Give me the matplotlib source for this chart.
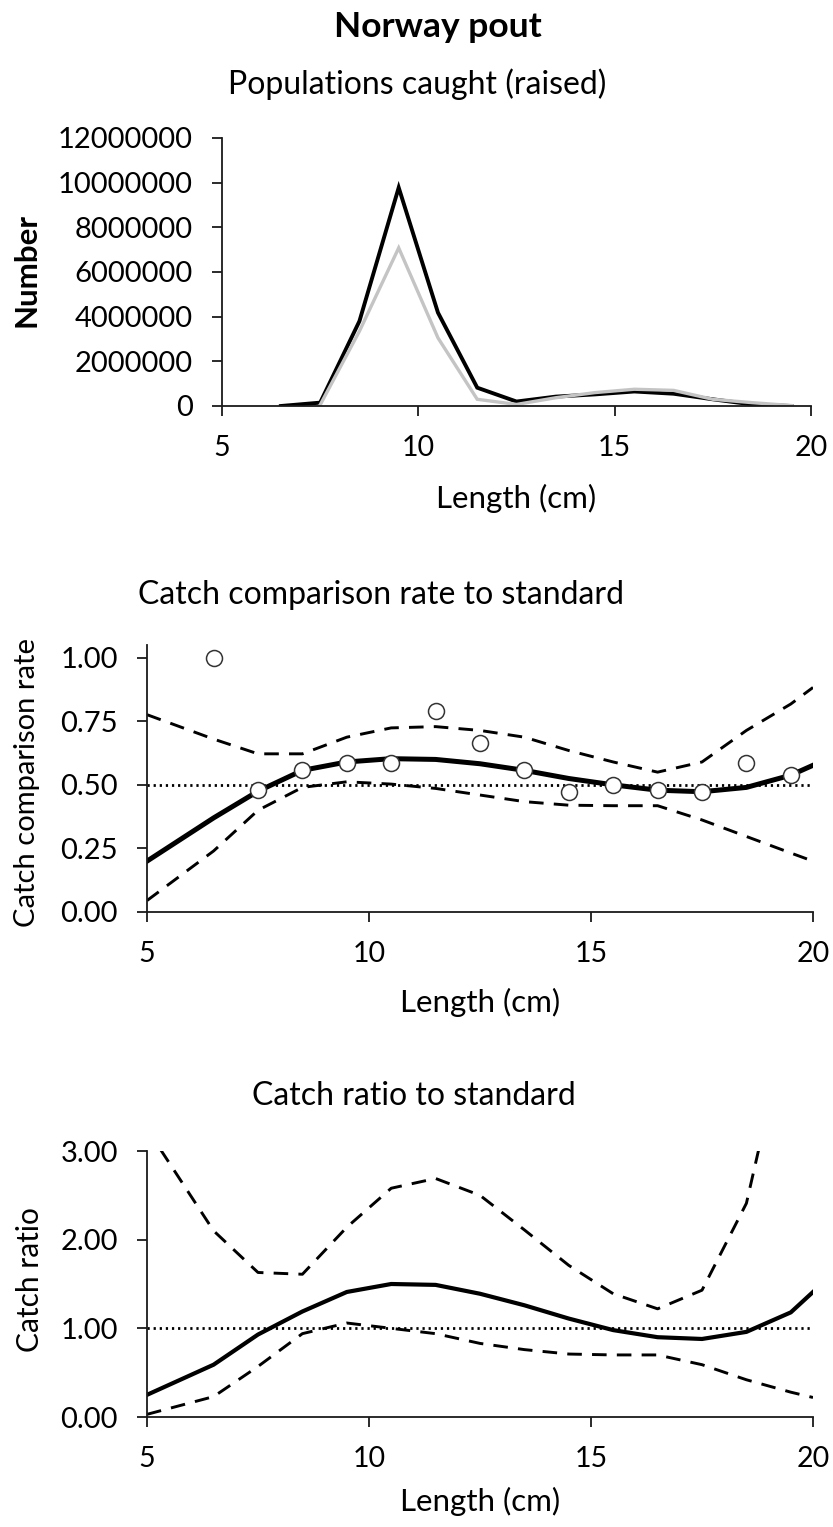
import numpy as np
import matplotlib
matplotlib.use("Agg")
import matplotlib.pyplot as plt
from matplotlib.ticker import FuncFormatter

plt.rcParams['font.family'] = ['Lato', 'DejaVu Sans']

# ---- Datos ----
# Panel 1: poblaciones capturadas (elevadas)
len_pop = [6.5, 7.5, 8.5, 9.5, 10.5, 11.5, 12.5, 13.5, 14.5, 15.5, 16.5, 17.5, 18.5, 19.5]
pop_test = [0, 0.15e6, 3.8e6, 9.78e6, 4.18e6, 0.82e6, 0.2e6, 0.42e6, 0.52e6, 0.65e6, 0.55e6, 0.3e6, 0.07e6, 0.0]
pop_std = [np.nan, 0.05e6, 3.35e6, 7.08e6, 3.05e6, 0.3e6, 0.07e6, 0.37e6, 0.6e6, 0.75e6, 0.7e6, 0.3e6, 0.15e6, 0.02e6]

# Panel 2: tasa de comparación de captura
len_fit = [5, 6.5, 7.5, 8.5, 9.5, 10.5, 11.5, 12.5, 13.5, 14.5, 15.5, 16.5, 17.5, 18.5, 19.5, 20]
ccr_fit = [0.200, 0.37, 0.475, 0.557, 0.59, 0.603, 0.60, 0.583, 0.557, 0.525, 0.50, 0.479, 0.473, 0.49, 0.538, 0.577]
ccr_upper = [0.776, 0.68, 0.622, 0.622, 0.6875, 0.724, 0.729, 0.714, 0.6875, 0.635, 0.59, 0.55, 0.59, 0.714, 0.818, 0.883]
ccr_lower = [0.045, 0.24, 0.40, 0.49, 0.512, 0.503, 0.486, 0.46, 0.434, 0.42, 0.418, 0.418, 0.362, 0.297, 0.232, 0.20]
len_obs = [6.5, 7.5, 8.5, 9.5, 10.5, 11.5, 12.5, 13.5, 14.5, 15.5, 16.5, 17.5, 18.5, 19.5]
ccr_obs = [1.00, 0.479, 0.56, 0.586, 0.586, 0.789, 0.664, 0.56, 0.473, 0.501, 0.479, 0.47, 0.587, 0.538]
ccr_ref = 0.5

# Panel 3: razón de captura
cr_fit = [0.25, 0.59, 0.93, 1.19, 1.41, 1.5, 1.49, 1.39, 1.26, 1.11, 0.98, 0.9, 0.88, 0.96, 1.18, 1.41]
cr_upper = [3.25, 2.1, 1.63, 1.61, 2.14, 2.58, 2.69, 2.5, 2.11, 1.71, 1.39, 1.22, 1.43, 2.41, 4.6, np.nan]
cr_lower = [0.03, 0.23, 0.57, 0.94, 1.06, 1.0, 0.94, 0.83, 0.76, 0.71, 0.70, 0.70, 0.59, 0.42, 0.28, 0.22]
cr_ref = 1.0

x_ticks = [5, 10, 15, 20]

# ---- Figura ----
W, H = 833, 1527
fig = plt.figure(figsize=(W / 100, H / 100), dpi=100)

def add_px_axes(left, right, top, bottom):
    return fig.add_axes([left / W, 1 - bottom / H, (right - left) / W, (bottom - top) / H])

def fig_text(x, y, s, **kw):
    fig.text(x / W, 1 - y / H, s, ha='center', va='center', **kw)

def style_axes(ax):
    for side in ['top', 'right']:
        ax.spines[side].set_visible(False)
    for side in ['left', 'bottom']:
        ax.spines[side].set_linewidth(1.3)
        ax.spines[side].set_color('#1a1a1a')
    ax.set_xlim(5, 20)
    ax.set_xticks(x_ticks)
    ax.tick_params(axis='both', direction='out', length=7, width=1.3, color='#1a1a1a')
    ax.tick_params(axis='x', labelsize=20.5, pad=14)
    ax.tick_params(axis='y', labelsize=21, pad=14)

TITLE = 23
LABEL = 22.5
DASH = (0, (5, 3.5))

# Panel 1
ax1 = add_px_axes(222, 811, 138, 406)
ax1.plot(len_pop, pop_test, color='black', lw=2.8, solid_joinstyle='miter')
ax1.plot(len_pop, pop_std, color='#c4c4c4', lw=2.4, solid_joinstyle='miter')
style_axes(ax1)
ax1.set_ylim(0, 12e6)
ax1.set_yticks(np.arange(0, 12e6 + 1, 2e6))
ax1.yaxis.set_major_formatter(FuncFormatter(lambda v, p: f"{int(v)}"))

# Panel 2
ax2 = add_px_axes(147, 813, 645, 912)
ax2.plot([5, 20], [ccr_ref, ccr_ref], color='black', lw=2.0, linestyle=(0, (0.8, 1.4)))
ax2.plot(len_fit, ccr_upper, color='black', lw=2.1, linestyle=DASH)
ax2.plot(len_fit, ccr_lower, color='black', lw=2.1, linestyle=DASH)
ax2.plot(len_fit, ccr_fit, color='black', lw=3.6)
ax2.plot(len_obs, ccr_obs, linestyle='none', marker='o', markersize=11.5,
         markerfacecolor='white', markeredgecolor='#333333', markeredgewidth=1.1)
style_axes(ax2)
ax2.set_ylim(0, 1.05)
ax2.set_yticks([0, 0.25, 0.5, 0.75, 1.0])
ax2.yaxis.set_major_formatter(FuncFormatter(lambda v, p: f"{v:.2f}"))

# Panel 3
ax3 = add_px_axes(147, 813, 1151, 1417)
ax3.plot([5, 20], [cr_ref, cr_ref], color='black', lw=2.0, linestyle=(0, (0.8, 1.4)))
ax3.plot(len_fit, cr_upper, color='black', lw=2.1, linestyle=DASH)
ax3.plot(len_fit, cr_lower, color='black', lw=2.1, linestyle=DASH)
ax3.plot(len_fit, cr_fit, color='black', lw=3.0)
style_axes(ax3)
ax3.set_ylim(0, 3)
ax3.set_yticks([0, 1, 2, 3])
ax3.yaxis.set_major_formatter(FuncFormatter(lambda v, p: f"{v:.2f}"))

# Textos
fig_text(438, 27, "Norway pout", fontsize=25.5, fontweight='bold')
fig_text(417, 84, "Populations caught (raised)", fontsize=TITLE)
fig_text(381, 595, "Catch comparison rate to standard", fontsize=TITLE)
fig_text(414, 1096, "Catch ratio to standard", fontsize=TITLE)

fig_text(516, 498, "Length (cm)", fontsize=LABEL)
fig_text(480, 1002, "Length (cm)", fontsize=LABEL)
fig_text(480, 1501, "Length (cm)", fontsize=LABEL)

fig_text(27, 270, "Number", fontsize=LABEL, fontweight='bold', rotation=90)
fig_text(27, 783, "Catch comparison rate", fontsize=21, rotation=90)
fig_text(30, 1280, "Catch ratio", fontsize=21.5, rotation=90)

fig.savefig("out.png", dpi=100)
